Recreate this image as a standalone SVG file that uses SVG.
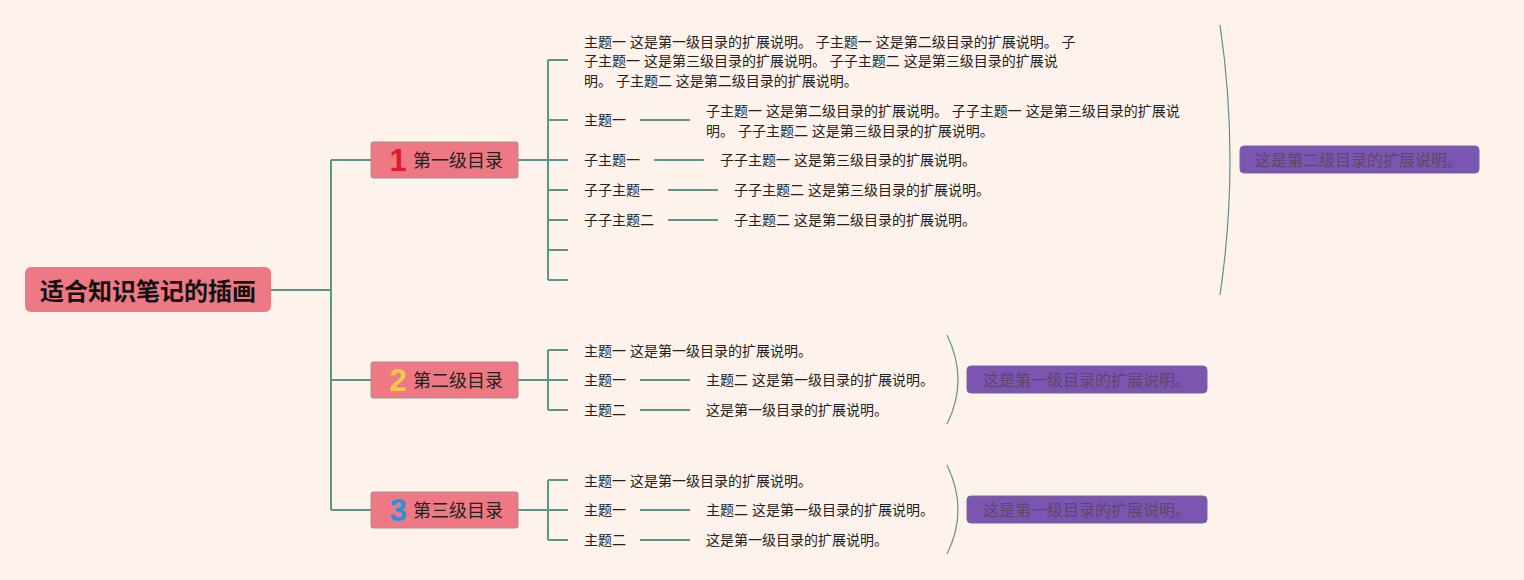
<svg xmlns="http://www.w3.org/2000/svg" width="1524" height="580" viewBox="0 0 1524 580">
<style>
.t{font-family:"Liberation Sans","Noto Sans CJK SC",sans-serif;font-size:14px;fill:#222}
.l1box{fill:#ee7884;stroke:#a88e8e;stroke-width:1}
.l1t{font-family:"Liberation Sans","Noto Sans CJK SC",sans-serif;font-size:18px;fill:#222}
.num{font-family:"Liberation Sans","Noto Sans",sans-serif;font-size:31px;font-weight:bold}
.pbox{fill:#7c55b0;stroke:#6d6a9e;stroke-width:1}
.pt{font-family:"Liberation Sans","Noto Sans CJK SC",sans-serif;font-size:16px;fill:#5a4868}
.c{fill:none;stroke:#5e9486;stroke-width:2}
.arc{fill:none;stroke:#5e9486;stroke-width:1.2}
</style>
<rect width="1524" height="580" fill="#fdf2ec"/>
<g id="connectors">
<path class="c" d="M271,290H331M331,160V510M331,160H371M331,380H371M331,510H371"/>
<path class="c" d="M518,160H548M548,60V280M548,60H568M548,120H568M548,160H568M548,190H568M548,220H568M548,250H568M548,280H568"/>
<path class="c" d="M640,120H690M654,160H704M668,190H718M668,220H718"/>
<path class="c" d="M518,380H548M548,350V410M548,350H568M548,380H568M548,410H568M640,380H690M640,410H690"/>
<path class="c" d="M518,510H548M548,480V540M548,480H568M548,510H568M548,540H568M640,510H690M640,540H690"/>
<path class="arc" d="M1220,25Q1240,160 1220,295"/>
<path class="arc" d="M947,335Q969,380 947,424"/>
<path class="arc" d="M947,465Q969,510 947,554"/>
</g>
<g id="root">
<rect x="25" y="267" width="246" height="45" rx="6" fill="#ee7884"/>
<text x="148" y="300" text-anchor="middle" style="font-family:'Noto Sans CJK SC',sans-serif;font-size:24px;font-weight:bold;fill:#111">适合知识笔记的插画</text>
</g>
<g id="level1-1">
<rect class="l1box" x="371" y="142" width="147" height="36" rx="2"/>
<text class="num" x="398" y="171" text-anchor="middle" fill="#e0192c">1</text>
<text class="l1t" x="413" y="167">第一级目录</text>
</g>
<g id="level1-2">
<rect class="l1box" x="371" y="362" width="147" height="36" rx="2"/>
<text class="num" x="398" y="391" text-anchor="middle" fill="#f7c948">2</text>
<text class="l1t" x="413" y="387">第二级目录</text>
</g>
<g id="level1-3">
<rect class="l1box" x="371" y="492" width="147" height="36" rx="2"/>
<text class="num" x="398" y="521" text-anchor="middle" fill="#2a90dc">3</text>
<text class="l1t" x="413" y="517">第三级目录</text>
</g>
<g id="b1-topic1">
<text class="t" x="584" y="47">主题一 这是第一级目录的扩展说明。 子主题一 这是第二级目录的扩展说明。 子</text>
<text class="t" x="584" y="66">子主题一 这是第三级目录的扩展说明。 子子主题二 这是第三级目录的扩展说</text>
<text class="t" x="584" y="86">明。 子主题二 这是第二级目录的扩展说明。</text>
</g>
<g id="b1-topic2">
<text class="t" x="584" y="125">主题一</text>
<text class="t" x="706" y="116">子主题一 这是第二级目录的扩展说明。 子子主题一 这是第三级目录的扩展说</text>
<text class="t" x="706" y="136">明。 子子主题二 这是第三级目录的扩展说明。</text>
</g>
<g id="b1-topic3">
<text class="t" x="584" y="165">子主题一</text>
<text class="t" x="720" y="165">子子主题一 这是第三级目录的扩展说明。</text>
</g>
<g id="b1-topic4">
<text class="t" x="584" y="195">子子主题一</text>
<text class="t" x="734" y="195">子子主题二 这是第三级目录的扩展说明。</text>
</g>
<g id="b1-topic5">
<text class="t" x="584" y="225">子子主题二</text>
<text class="t" x="734" y="225">子主题二 这是第二级目录的扩展说明。</text>
</g>
<g id="b1-summary">
<rect class="pbox" x="1240" y="146" width="239" height="27" rx="4"/>
<text class="pt" x="1255" y="165.5">这是第二级目录的扩展说明。</text>
</g>
<g id="b2-topics">
<text class="t" x="584" y="356">主题一 这是第一级目录的扩展说明。</text>
<text class="t" x="584" y="385">主题一</text>
<text class="t" x="706" y="385">主题二 这是第一级目录的扩展说明。</text>
<text class="t" x="584" y="415">主题二</text>
<text class="t" x="706" y="415">这是第一级目录的扩展说明。</text>
</g>
<g id="b2-summary">
<rect class="pbox" x="967" y="366" width="240" height="27" rx="4"/>
<text class="pt" x="983" y="385.5">这是第一级目录的扩展说明。</text>
</g>
<g id="b3-topics">
<text class="t" x="584" y="486">主题一 这是第一级目录的扩展说明。</text>
<text class="t" x="584" y="515">主题一</text>
<text class="t" x="706" y="515">主题二 这是第一级目录的扩展说明。</text>
<text class="t" x="584" y="545">主题二</text>
<text class="t" x="706" y="545">这是第一级目录的扩展说明。</text>
</g>
<g id="b3-summary">
<rect class="pbox" x="967" y="496" width="240" height="27" rx="4"/>
<text class="pt" x="983" y="515.5">这是第一级目录的扩展说明。</text>
</g>
</svg>
